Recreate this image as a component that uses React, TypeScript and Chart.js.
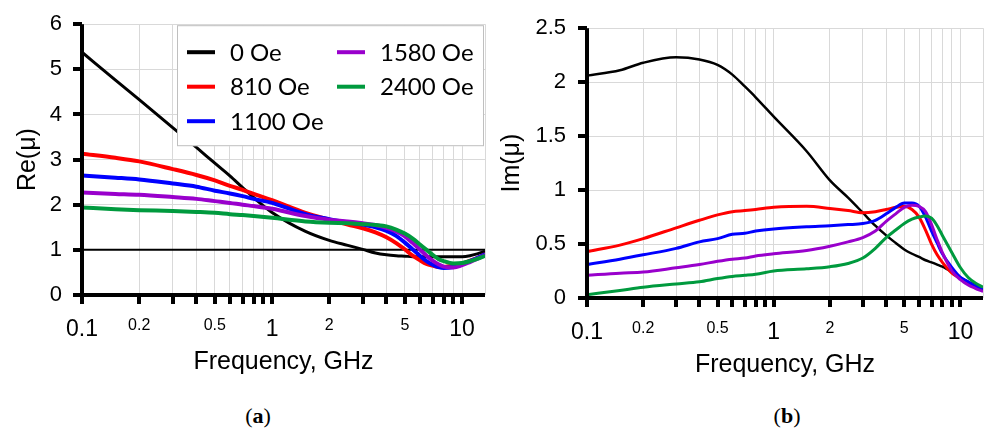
import React, { useEffect, useRef } from 'react';
import { Chart, registerables } from 'chart.js';

Chart.register(...registerables);

// ---------- data ----------
const freqGHz = [0.1, 0.15, 0.2, 0.3, 0.4, 0.5, 0.6, 0.7, 0.8, 1, 1.5, 2, 2.5, 3, 3.5, 4, 4.5, 5, 5.5, 6, 6.5, 7, 7.5, 8, 9, 10, 11, 12, 13.2];

const seriesLabels = ['0 Oe', '810 Oe', '1100 Oe', '1580 Oe', '2400 Oe'];
const seriesColors = ['#000000', '#ff0000', '#0000ff', '#9900cc', '#009a3e'];

const re0 = [5.38, 4.76, 4.33, 3.71, 3.27, 2.92, 2.64, 2.38, 2.16, 1.83, 1.41, 1.21, 1.10, 1.01, 0.93, 0.89, 0.87, 0.86, 0.85, 0.85, 0.85, 0.85, 0.85, 0.85, 0.85, 0.85, 0.87, 0.91, 0.97];
const re810 = [3.13, 3.04, 2.96, 2.79, 2.66, 2.54, 2.42, 2.33, 2.24, 2.10, 1.82, 1.67, 1.56, 1.48, 1.39, 1.28, 1.15, 1.01, 0.87, 0.77, 0.69, 0.65, 0.62, 0.62, 0.65, 0.70, 0.76, 0.82, 0.90];
const re1100 = [2.65, 2.60, 2.56, 2.47, 2.40, 2.31, 2.25, 2.19, 2.13, 2.04, 1.79, 1.68, 1.61, 1.56, 1.50, 1.42, 1.31, 1.16, 1.01, 0.87, 0.75, 0.67, 0.62, 0.60, 0.62, 0.68, 0.75, 0.82, 0.90];
const re1580 = [2.27, 2.24, 2.22, 2.17, 2.13, 2.08, 2.04, 2.00, 1.97, 1.91, 1.75, 1.67, 1.63, 1.59, 1.55, 1.49, 1.41, 1.30, 1.15, 1.01, 0.87, 0.76, 0.68, 0.63, 0.61, 0.66, 0.73, 0.80, 0.88];
const re2400 = [1.94, 1.90, 1.88, 1.86, 1.84, 1.82, 1.79, 1.77, 1.75, 1.71, 1.63, 1.60, 1.59, 1.57, 1.55, 1.52, 1.45, 1.36, 1.25, 1.12, 1.00, 0.89, 0.80, 0.75, 0.70, 0.71, 0.75, 0.80, 0.87];

const im0 = [2.06, 2.11, 2.18, 2.23, 2.21, 2.16, 2.07, 1.96, 1.86, 1.68, 1.36, 1.09, 0.93, 0.79, 0.67, 0.58, 0.51, 0.45, 0.41, 0.38, 0.35, 0.33, 0.31, 0.29, 0.24, 0.19, 0.15, 0.12, 0.08];
const im810 = [0.43, 0.49, 0.55, 0.65, 0.72, 0.77, 0.80, 0.81, 0.82, 0.84, 0.85, 0.83, 0.81, 0.79, 0.80, 0.82, 0.84, 0.85, 0.82, 0.75, 0.63, 0.50, 0.40, 0.33, 0.23, 0.18, 0.13, 0.10, 0.07];
const im1100 = [0.31, 0.36, 0.40, 0.46, 0.52, 0.55, 0.59, 0.60, 0.62, 0.64, 0.66, 0.67, 0.68, 0.69, 0.72, 0.78, 0.84, 0.88, 0.88, 0.85, 0.75, 0.62, 0.51, 0.41, 0.28, 0.19, 0.15, 0.11, 0.08];
const im1580 = [0.21, 0.23, 0.24, 0.28, 0.31, 0.34, 0.36, 0.37, 0.39, 0.41, 0.44, 0.48, 0.52, 0.56, 0.62, 0.71, 0.78, 0.84, 0.86, 0.85, 0.80, 0.68, 0.54, 0.42, 0.25, 0.17, 0.12, 0.09, 0.06];
const im2400 = [0.03, 0.07, 0.10, 0.13, 0.15, 0.18, 0.20, 0.21, 0.22, 0.25, 0.27, 0.29, 0.32, 0.37, 0.46, 0.56, 0.63, 0.69, 0.73, 0.75, 0.76, 0.74, 0.67, 0.58, 0.42, 0.28, 0.19, 0.14, 0.10];

const xMin = 0.1;
const xMax = 13.2;
const xGridValues = [0.1, 0.2, 0.3, 0.4, 0.5, 0.6, 0.7, 0.8, 0.9, 1, 2, 3, 4, 5, 6, 7, 8, 9, 10, 13.2];
const xLabelValues = [0.1, 0.2, 0.5, 1, 2, 5, 10];
const xMajorLabels = [0.1, 1, 10];
const reReferenceLevel = 1;

const FONT = "'Liberation Sans', Arial, Helvetica, sans-serif";
const TICK_LEN = 9;
const AXIS_W = 4;

// ---------- thick black axes with outward tick marks ----------
function drawAxisFrame(chart: any) {
  const ctx: CanvasRenderingContext2D = chart.ctx;
  const a = chart.chartArea;
  const xs = chart.scales.x;
  const ys = chart.scales.y;
  const h = AXIS_W / 2;
  ctx.save();
  ctx.fillStyle = '#000000';
  ctx.fillRect(a.left - h, a.bottom - h, a.right - a.left + h, AXIS_W);
  ctx.fillRect(a.left - h, a.top, AXIS_W, a.bottom - a.top + h);
  xs.ticks.forEach((t: any) => {
    if (t.value > 12) return;
    const px = Math.round(xs.getPixelForValue(t.value));
    ctx.fillRect(px - h, a.bottom, AXIS_W, TICK_LEN);
  });
  ys.ticks.forEach((t: any) => {
    const py = Math.round(ys.getPixelForValue(t.value));
    ctx.fillRect(a.left - TICK_LEN, py - h, TICK_LEN, AXIS_W);
  });
  ctx.restore();
}

// ---------- box legend in two columns ----------
function drawBoxLegend(chart: any) {
  const ctx: CanvasRenderingContext2D = chart.ctx;
  const a = chart.chartArea;
  const x0 = a.left + 95;
  const y0 = a.top + 1;
  const x1 = a.right - 1;
  const y1 = a.top + 122;
  ctx.save();
  ctx.fillStyle = '#ffffff';
  ctx.fillRect(x0, y0, x1 - x0, y1 - y0);
  ctx.strokeStyle = '#bfbfbf';
  ctx.lineWidth = 1;
  ctx.strokeRect(x0 + 0.5, y0 + 0.5, x1 - x0 - 1, y1 - y0 - 1);
  ctx.font = "24px Lato, 'Open Sans', sans-serif";
  ctx.textBaseline = 'middle';
  ctx.textAlign = 'left';
  seriesLabels.forEach((lbl, i) => {
    const col = Math.floor(i / 3);
    const row = i % 3;
    const cx = x0 + 10 + col * 150;
    const cy = y0 + 27 + row * 34.5;
    ctx.fillStyle = seriesColors[i];
    ctx.fillRect(cx, cy - 2, 28, 4);
    ctx.fillStyle = '#000';
    ctx.fillText(lbl, cx + 43, cy + 1);
  });
  ctx.restore();
}

const framePlugin = {
  id: 'frameAndLegend',
  afterDraw(chart: any) {
    drawAxisFrame(chart);
    if (chart.options.plugins.frameAndLegend && chart.options.plugins.frameAndLegend.legend) {
      drawBoxLegend(chart);
    }
  },
};

type PanelOpts = {
  series: number[][];
  yMax: number;
  yStep: number;
  yLabelStep: number;
  yTitle: string;
  blackWidth: number;
  colorWidth: number;
  refLevel?: number;
  padTop: number;
  padRight: number;
  yWidth: number;
  yTitlePad: number;
  yTickPad: number;
  legend: boolean;
};

function fmt(v: number) {
  return String(Number(v.toFixed(3)));
}

function buildConfig(o: PanelOpts): any {
  const datasets: any[] = o.series.map((vals, i) => ({
    label: seriesLabels[i],
    data: freqGHz.map((f, j) => ({ x: f, y: vals[j] })),
    borderColor: seriesColors[i],
    backgroundColor: seriesColors[i],
    borderWidth: i === 0 ? o.blackWidth : o.colorWidth,
    pointRadius: 0,
    cubicInterpolationMode: 'monotone',
    fill: false,
    order: o.series.length - i,
  }));
  if (o.refLevel !== undefined) {
    datasets.push({
      label: '',
      data: [
        { x: xMin, y: o.refLevel },
        { x: xMax, y: o.refLevel },
      ],
      borderColor: '#000',
      borderWidth: 2,
      pointRadius: 0,
      fill: false,
      order: 20,
    });
  }
  const gridCommon = {
    color: '#d9d9d9',
    lineWidth: 1,
    drawTicks: true,
    tickLength: TICK_LEN,
    tickColor: 'rgba(0,0,0,0)',
  };
  return {
    type: 'line',
    data: { datasets },
    options: {
      responsive: false,
      animation: false,
      events: [],
      layout: { padding: { top: o.padTop, right: o.padRight, left: 0, bottom: 0 } },
      plugins: {
        legend: { display: false },
        tooltip: { enabled: false },
        title: { display: false },
        frameAndLegend: { legend: o.legend },
      },
      scales: {
        x: {
          type: 'logarithmic',
          min: xMin,
          max: xMax,
          afterBuildTicks: (s: any) => {
            s.ticks = xGridValues.map((v) => ({ value: v }));
          },
          afterFit: (s: any) => {
            s.height = 82;
          },
          ticks: {
            autoSkip: false,
            maxRotation: 0,
            minRotation: 0,
            padding: 12,
            color: '#000',
            callback: (v: number) => (xLabelValues.includes(v) ? String(v) : ''),
            font: (c: any) => ({
              family: FONT,
              size: c.tick && xMajorLabels.includes(c.tick.value) ? 23 : 16,
            }),
          },
          grid: { ...gridCommon },
          border: { display: false },
          title: {
            display: true,
            text: 'Frequency, GHz',
            color: '#000',
            font: { family: FONT, size: 25 },
            padding: { top: 0, bottom: 0 },
          },
        },
        y: {
          min: 0,
          max: o.yMax,
          afterFit: (s: any) => {
            s.width = o.yWidth;
          },
          ticks: {
            stepSize: o.yStep,
            padding: o.yTickPad,
            color: '#000',
            font: { family: FONT, size: 22 },
            callback: (v: number) => {
              const r = v / o.yLabelStep;
              return Math.abs(r - Math.round(r)) < 1e-6 ? fmt(v) : '';
            },
          },
          grid: { ...gridCommon },
          border: { display: false },
          title: {
            display: true,
            text: o.yTitle,
            color: '#000',
            font: { family: FONT, size: 25 },
            padding: { top: o.yTitlePad, bottom: 0 },
          },
        },
      },
    },
    plugins: [framePlugin],
  };
}

export default function App() {
  const leftRef = useRef<HTMLCanvasElement | null>(null);
  const rightRef = useRef<HTMLCanvasElement | null>(null);

  useEffect(() => {
    const charts: Chart[] = [];
    if (leftRef.current) {
      charts.push(
        new Chart(
          leftRef.current,
          buildConfig({
            series: [re0, re810, re1100, re1580, re2400],
            yMax: 6,
            yStep: 0.5,
            yLabelStep: 1,
            yTitle: 'Re(\u03bc)',
            blackWidth: 3,
            colorWidth: 4,
            refLevel: reReferenceLevel,
            padTop: 18,
            padRight: 10,
            yWidth: 82,
            yTitlePad: 13,
            yTickPad: 11,
            legend: true,
          })
        )
      );
    }
    if (rightRef.current) {
      charts.push(
        new Chart(
          rightRef.current,
          buildConfig({
            series: [im0, im810, im1100, im1580, im2400],
            yMax: 2.5,
            yStep: 0.25,
            yLabelStep: 0.5,
            yTitle: 'Im(\u03bc)',
            blackWidth: 2.5,
            colorWidth: 3,
            padTop: 19,
            padRight: 4,
            yWidth: 90,
            yTitlePad: 0,
            yTickPad: 12,
            legend: false,
          })
        )
      );
    }
    return () => charts.forEach((c) => c.destroy());
  }, []);

  const capStyle: React.CSSProperties = {
    position: 'absolute',
    top: 403,
    width: 200,
    textAlign: 'center',
    fontFamily: "'Liberation Serif', 'Times New Roman', serif",
    fontSize: 22,
    lineHeight: '26px',
    color: '#000',
  };

  return (
    <div style={{ position: 'absolute', left: 0, top: 0, width: 995, height: 430, background: '#fff', overflow: 'hidden' }}>
      <div style={{ position: 'absolute', left: 0, top: 0, width: 497, height: 377 }}>
        <canvas ref={leftRef} width={497} height={377} style={{ display: 'block' }} />
      </div>
      <div style={{ position: 'absolute', left: 497, top: 3, width: 498, height: 377 }}>
        <canvas ref={rightRef} width={498} height={377} style={{ display: 'block' }} />
      </div>
      <div style={{ ...capStyle, left: 158 }}>
        (<b>a</b>)
      </div>
      <div style={{ ...capStyle, left: 687 }}>
        (<b>b</b>)
      </div>
    </div>
  );
}
